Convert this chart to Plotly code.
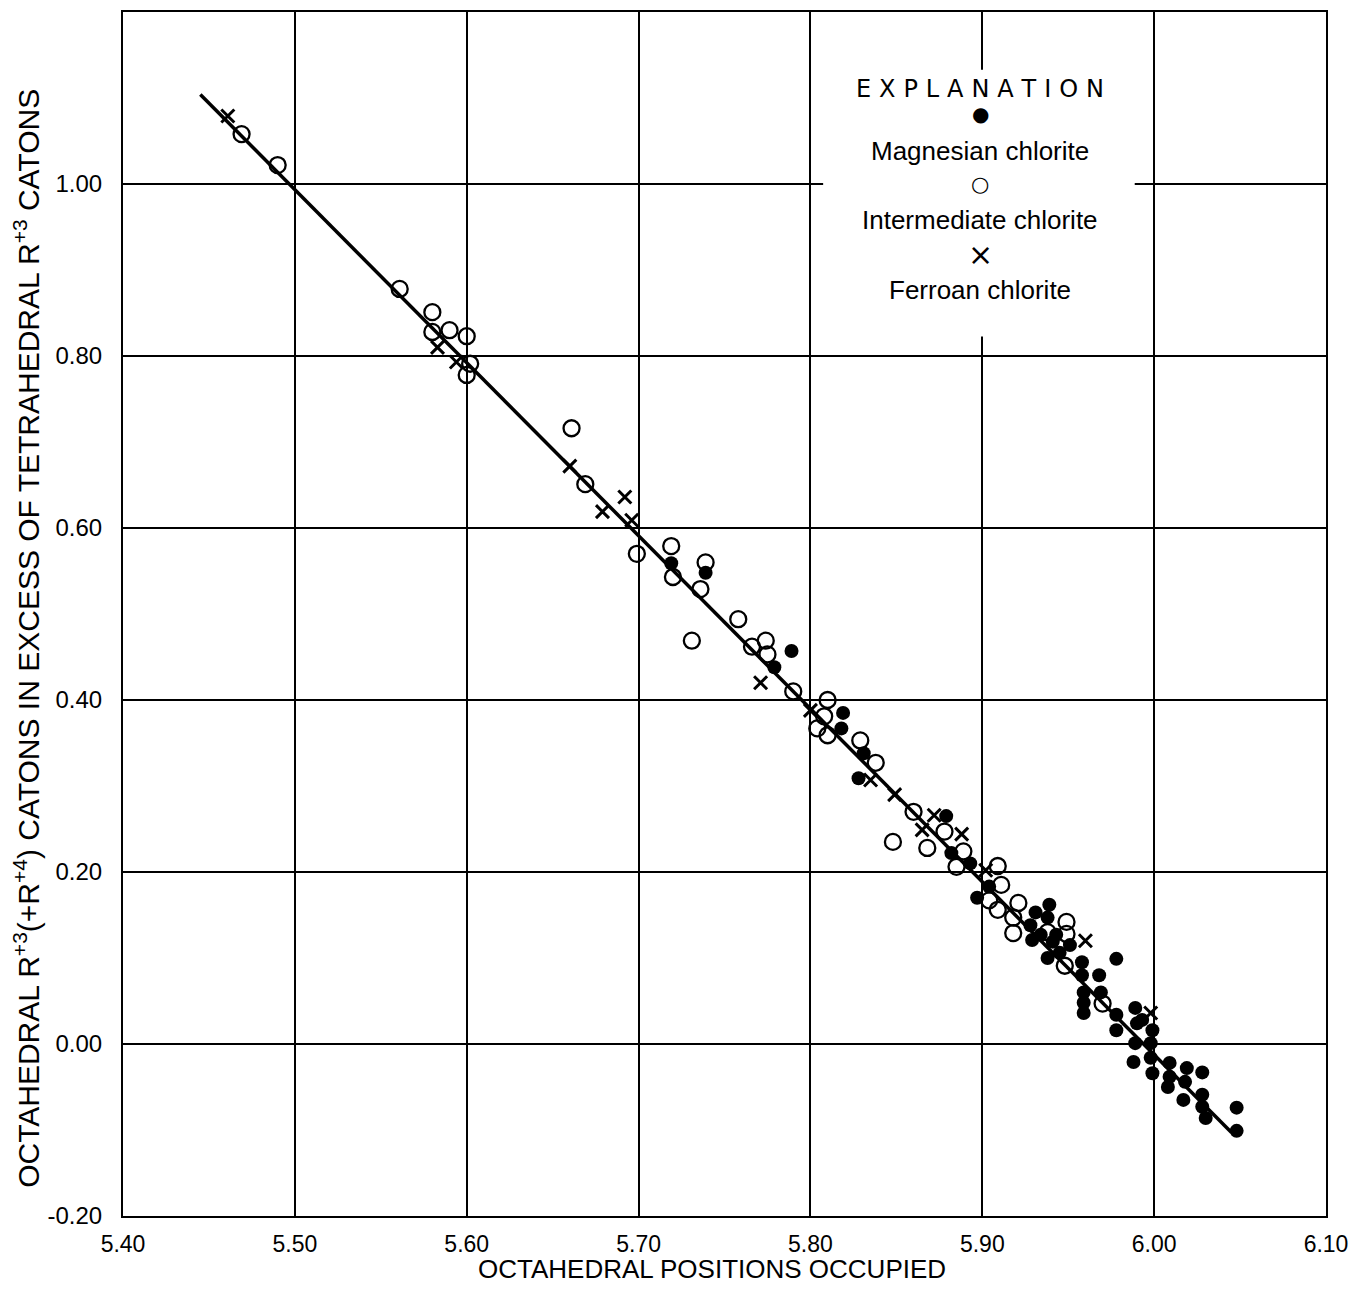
import plotly.graph_objects as go

# ---------------- data ----------------
mag_x = [5.719, 5.739, 5.789, 5.779, 5.819, 5.818, 5.831, 5.828, 5.879, 5.882,
         5.893, 5.904, 5.897, 5.939, 5.931, 5.938, 5.928, 5.929, 5.934, 5.941,
         5.943, 5.951, 5.938, 5.945, 5.958, 5.958, 5.968, 5.978, 5.959, 5.969,
         5.959, 5.959, 5.978, 5.978, 5.989, 5.993, 5.999, 5.989, 5.998, 5.990,
         5.988, 5.998, 5.999, 6.009, 6.009, 6.019, 6.028, 6.008, 6.018, 6.017,
         6.028, 6.028, 6.030, 6.048, 6.048]
mag_y = [0.559, 0.548, 0.457, 0.438, 0.385, 0.367, 0.338, 0.309, 0.265, 0.222,
         0.210, 0.183, 0.170, 0.162, 0.153, 0.147, 0.138, 0.121, 0.127, 0.119,
         0.127, 0.115, 0.100, 0.106, 0.095, 0.080, 0.080, 0.099, 0.060, 0.060,
         0.048, 0.036, 0.034, 0.016, 0.042, 0.028, 0.016, 0.001, 0.001, 0.024,
         -0.021, -0.016, -0.034, -0.022, -0.038, -0.028, -0.033, -0.050, -0.044, -0.065,
         -0.059, -0.073, -0.086, -0.074, -0.101]

int_x = [5.469, 5.490, 5.561, 5.580, 5.580, 5.590, 5.600, 5.602, 5.600, 5.661,
         5.669, 5.699, 5.719, 5.720, 5.739, 5.736, 5.731, 5.758, 5.766, 5.774,
         5.775, 5.790, 5.810, 5.808, 5.804, 5.810, 5.829, 5.838, 5.848, 5.860,
         5.868, 5.878, 5.889, 5.885, 5.909, 5.911, 5.904, 5.909, 5.921, 5.918,
         5.918, 5.938, 5.949, 5.949, 5.948, 5.970]
int_y = [1.058, 1.022, 0.878, 0.851, 0.828, 0.830, 0.823, 0.791, 0.778, 0.716,
         0.651, 0.570, 0.579, 0.543, 0.560, 0.529, 0.469, 0.494, 0.462, 0.469,
         0.453, 0.410, 0.400, 0.381, 0.367, 0.359, 0.353, 0.327, 0.235, 0.270,
         0.228, 0.247, 0.224, 0.206, 0.207, 0.185, 0.167, 0.156, 0.164, 0.147,
         0.129, 0.130, 0.142, 0.128, 0.091, 0.047]

fer_x = [5.461, 5.583, 5.594, 5.660, 5.679, 5.692, 5.696, 5.771, 5.800, 5.835,
         5.849, 5.865, 5.872, 5.888, 5.902, 5.960, 5.998]
fer_y = [1.079, 0.810, 0.793, 0.672, 0.619, 0.636, 0.609, 0.420, 0.388, 0.307,
         0.290, 0.249, 0.266, 0.244, 0.202, 0.120, 0.036]

line_x = [5.445, 6.045]
line_y = [1.104, -0.103]

x_ticks = [5.40, 5.50, 5.60, 5.70, 5.80, 5.90, 6.00, 6.10]
x_tick_labels = ["5.40", "5.50", "5.60", "5.70", "5.80", "5.90", "6.00", "6.10"]
y_ticks = [-0.20, 0.00, 0.20, 0.40, 0.60, 0.80, 1.00]
y_tick_labels = ["-0.20", "0.00", "0.20", "0.40", "0.60", "0.80", "1.00"]

legend_title = "EXPLANATION"
legend_names = ["Magnesian chlorite", "Intermediate chlorite", "Ferroan chlorite"]

# ---------------- figure ----------------
fig = go.Figure()
fig.add_trace(go.Scatter(x=line_x, y=line_y, mode="lines",
                         line=dict(color="black", width=3.5), showlegend=False))
fig.add_trace(go.Scatter(x=int_x, y=int_y, mode="markers", name=legend_names[1],
                         marker=dict(symbol="circle-open", size=16, color="black",
                                     line=dict(width=2.3, color="black")), showlegend=False))
fig.add_trace(go.Scatter(x=mag_x, y=mag_y, mode="markers", name=legend_names[0],
                         marker=dict(symbol="circle", size=14, color="black"), showlegend=False))
fig.add_trace(go.Scatter(x=fer_x, y=fer_y, mode="markers", name=legend_names[2],
                         marker=dict(symbol="x-thin-open", size=13, color="black",
                                     line=dict(width=3, color="black")), showlegend=False))

axis_common = dict(showgrid=True, gridcolor="black", gridwidth=2, zeroline=False,
                   showline=True, linecolor="black", linewidth=2, mirror=True,
                   ticks="")

fig.update_xaxes(range=[5.40, 6.10], tickvals=x_ticks, ticktext=x_tick_labels,
                 tickfont=dict(family="Liberation Sans, Arial", size=23, color="black"),
                 ticklabelstandoff=6, **axis_common)
fig.update_yaxes(range=[-0.20, 1.20], tickvals=y_ticks, ticktext=y_tick_labels,
                 tickfont=dict(family="Liberation Sans, Arial", size=24, color="black"),
                 ticklabelstandoff=14, **axis_common)

# axis titles as annotations
fig.add_annotation(xref="paper", yref="paper", x=0.49, y=-0.058,
                   text="OCTAHEDRAL POSITIONS OCCUPIED", showarrow=False,
                   yanchor="bottom", xanchor="center",
                   font=dict(family="Liberation Sans, Arial", size=26, color="black"))
fig.add_annotation(xref="paper", yref="paper", x=-0.080, y=0.48, textangle=-90,
                   text="OCTAHEDRAL R<sup>+3</sup>(+R<sup>+4</sup>) CATONS IN EXCESS OF TETRAHEDRAL R<sup>+3</sup> CATONS",
                   showarrow=False, xanchor="center", yanchor="middle",
                   font=dict(family="Liberation Sans, Arial", size=30, color="black"))

# explanation box
fig.add_shape(type="rect", xref="paper", yref="paper", x0=0.582, x1=0.841, y0=0.7305, y1=0.952,
              fillcolor="white", line=dict(width=0), layer="above")
cx = 0.7124
leg_font = dict(family="Liberation Sans, Arial", size=26, color="black")
items = [
    (0.9362, "\u2004".join(list(legend_title)), dict(family="DejaVu Sans", size=24, color="black")),
    (0.9150, "\u25CF", dict(family="DejaVu Sans", size=20, color="black")),
    (0.8847, legend_names[0], leg_font),
    (0.8574, "\u25CB", dict(family="DejaVu Sans", size=21, color="black")),
    (0.8275, legend_names[1], leg_font),
    (0.7985, "\u00D7", dict(family="DejaVu Sans", size=30, color="black")),
    (0.7695, legend_names[2], leg_font),
]
for yy, txt, fnt in items:
    fig.add_annotation(xref="paper", yref="paper", x=cx, y=yy, showarrow=False,
                       xanchor="center", yanchor="middle", text=txt, font=fnt)

fig.update_layout(width=1346, height=1278, margin=dict(l=115, r=28, t=2, b=70),
                  plot_bgcolor="white", paper_bgcolor="white", showlegend=False)

fig.write_html("out.html")
